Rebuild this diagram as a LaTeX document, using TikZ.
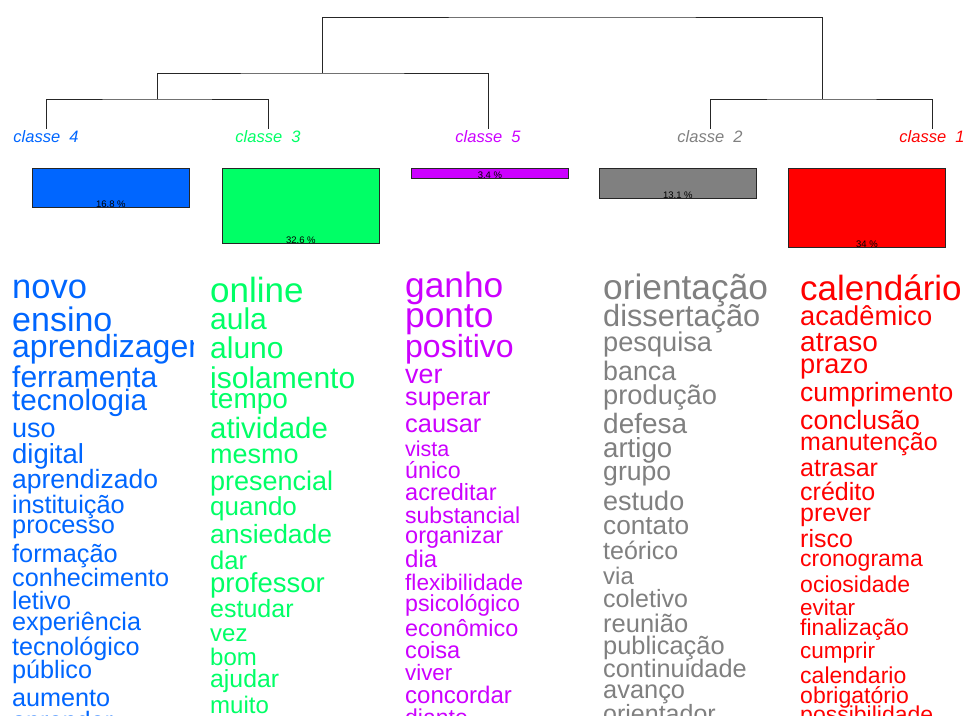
\documentclass[tikz,border=0pt]{standalone}
\usepackage{fontspec}
\setmainfont{Liberation Sans}
\definecolor{cl1}{HTML}{FF0000}
\definecolor{cl2}{HTML}{808080}
\definecolor{cl3}{HTML}{00FF66}
\definecolor{cl4}{HTML}{0066FF}
\definecolor{cl5}{HTML}{CC00FF}

\begin{document}
\begin{tikzpicture}[x=1pt,y=-1pt,
  link/.style={line width=1pt, draw=black!85},
  classe/.style={font=\itshape\fontsize{16.5}{16.5}\selectfont, anchor=base, inner sep=1pt},
  bar/.style={draw=black!85, line width=0.8pt, anchor=north west, inner sep=0pt, minimum width=157},
  pct/.style={font=\fontsize{9.5}{9.5}\selectfont, anchor=south, inner sep=0.3pt},
  word/.style={anchor=base west, inner sep=0pt}]

\useasboundingbox[fill=white] (0,0) rectangle (965,715);

% class labels
\node[classe, text=cl4] (c4) at (46,142) {classe~~4};
\node[classe, text=cl3] (c3) at (268,142) {classe~~3};
\node[classe, text=cl5] (c5) at (488,142) {classe~~5};
\node[classe, text=cl2] (c2) at (710,142) {classe~~2};
\node[classe, text=cl1] (c1) at (932,142) {classe~~1};

% dendrogram
\coordinate (n34) at (157,99);
\coordinate (n345) at (322,73);
\coordinate (n12) at (822,99);
\coordinate (top) at (572,17);
\draw[link] (c4.north) |- (n34) -| (c3.north);
\draw[link] (n34) |- (n345) -| (c5.north);
\draw[link] (c2.north) |- (n12) -| (c1.north);
\draw[link] (n345) |- (top) -| (n12);

% bars
\node[bar, fill=cl4, minimum height=39] (b4) at (32,168) {};
\node[bar, fill=cl3, minimum height=75] (b3) at (222,168) {};
\node[bar, fill=cl5, minimum height=10] (b5) at (411,168) {};
\node[bar, fill=cl2, minimum height=30] (b2) at (599,168) {};
\node[bar, fill=cl1, minimum height=79] (b1) at (788,168) {};
\node[pct] (p4) at (b4.south) {16.8 \%};
\node[pct] (p3) at (b3.south) {32.6 \%};
\node[pct] (p5) at (b5.south) {3.4 \%};
\node[pct] (p2) at (b2.south) {13.1 \%};
\node[pct] (p1) at (b1.south) {34 \%};

% word lists
\begin{scope}
\clip (0,255) rectangle (193,715);
\foreach \w/\s/\y [count=\i] in {novo/34.5/298, ensino/34/331, aprendizagem/32/357,
  ferramenta/30/387, tecnologia/29.6/410, uso/27/437, digital/27.5/463,
  aprendizado/26.5/488, instituição/25.3/513, processo/25.3/533,
  formação/25.3/562, conhecimento/25.2/586, letivo/25.2/609,
  experiência/25.2/630, tecnológico/25.2/655, público/25.2/678,
  aumento/25.2/706, aprender/25.2/729}
  \node[word, text=cl4, font=\fontsize{\s}{\s}\selectfont] (w4-\i) at (12,\y) {\w};
\end{scope}

\foreach \w/\s/\y [count=\i] in {online/35/302, aula/30/329, aluno/30/358,
  isolamento/30/388, tempo/28/408, atividade/29.4/438, mesmo/27/463,
  presencial/27/490, quando/26/515, ansiedade/26.4/543, dar/25.6/569,
  professor/27.5/592, estudar/25/617, vez/24/641, bom/24/665,
  ajudar/24.8/687, muito/24/713}
  \node[word, text=cl3, font=\fontsize{\s}{\s}\selectfont] (w3-\i) at (210,\y) {\w};

\foreach \w/\s/\y [count=\i] in {ganho/35.3/297, ponto/35.3/327, positivo/32/357,
  ver/26.8/383, superar/25.2/405, causar/25.4/432, vista/21.5/456,
  único/23.2/478, acreditar/23.5/500, substancial/23/523, organizar/23.5/543,
  dia/24/567, flexibilidade/22.6/590, psicológico/23.2/611,
  econômico/23.4/636, coisa/23.6/658, viver/22.3/680, concordar/24/703,
  diante/23/725}
  \node[word, text=cl5, font=\fontsize{\s}{\s}\selectfont] (w5-\i) at (405,\y) {\w};

\foreach \w/\s/\y [count=\i] in {orientação/35.3/299, dissertação/30.7/326,
  pesquisa/27.2/351, banca/26.8/380, produção/27.3/404, defesa/28/433,
  artigo/27.6/457, grupo/26.6/480, estudo/27/510, contato/26.2/534,
  teórico/25/559, via/24/584, coletivo/25/607, reunião/25.5/632,
  publicação/25.4/654, continuidade/25.3/677, avanço/25.4/698,
  orientador/25/722}
  \node[word, text=cl2, font=\fontsize{\s}{\s}\selectfont] (w2-\i) at (603,\y) {\w};

\foreach \w/\s/\y [count=\i] in {calendário/35/300, acadêmico/27.3/325,
  atraso/28/351, prazo/27.2/373, cumprimento/26.5/401, conclusão/26.6/429,
  manutenção/25/450, atrasar/25/476, crédito/25/500, prever/25/521,
  risco/25/547, cronograma/23/566, ociosidade/23/592, evitar/22.5/615,
  finalização/23/635, cumprir/22.5/658, calendario/23/683,
  obrigatório/23/703, possibilidade/23/722}
  \node[word, text=cl1, font=\fontsize{\s}{\s}\selectfont] (w1-\i) at (800,\y) {\w};

\end{tikzpicture}
\end{document}
